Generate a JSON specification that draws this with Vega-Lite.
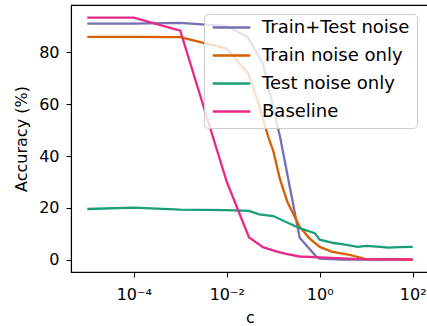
{
  "$schema": "https://vega.github.io/schema/vega-lite/v6.json",
  "width": 358,
  "height": 267,
  "autosize": {"type": "none"},
  "padding": {"left": 71, "top": 5, "right": 0, "bottom": 54},
  "background": "white",
  "config": {
    "view": {"stroke": "black", "strokeWidth": 1.1},
    "font": "DejaVu Sans",
    "axis": {
      "labelFont": "DejaVu Sans",
      "labelFontSize": 16,
      "labelColor": "black",
      "titleFont": "DejaVu Sans",
      "titleFontSize": 16,
      "titleFontWeight": "normal",
      "titleColor": "black",
      "domainColor": "black",
      "domainWidth": 1.1,
      "tickColor": "black",
      "tickWidth": 1.1,
      "tickSize": 5,
      "grid": false
    },
    "axisX": {"labelPadding": 9, "titlePadding": 7},
    "axisY": {"labelPadding": 7, "titlePadding": 9}
  },
  "data": {
    "values": [
      {"c": 0.00001, "series": "Train+Test noise", "acc": 91.0},
      {"c": 0.0001, "series": "Train+Test noise", "acc": 91.0},
      {"c": 0.001, "series": "Train+Test noise", "acc": 91.3},
      {"c": 0.01, "series": "Train+Test noise", "acc": 90.1},
      {"c": 0.028, "series": "Train+Test noise", "acc": 85.9},
      {"c": 0.06, "series": "Train+Test noise", "acc": 75.6},
      {"c": 0.14, "series": "Train+Test noise", "acc": 47.4},
      {"c": 0.37, "series": "Train+Test noise", "acc": 8.5},
      {"c": 0.85, "series": "Train+Test noise", "acc": 1.2},
      {"c": 1, "series": "Train+Test noise", "acc": 0.5},
      {"c": 3, "series": "Train+Test noise", "acc": 0.1},
      {"c": 100, "series": "Train+Test noise", "acc": 0.1},
      {"c": 0.00001, "series": "Train noise only", "acc": 85.9},
      {"c": 0.0001, "series": "Train noise only", "acc": 85.9},
      {"c": 0.001, "series": "Train noise only", "acc": 85.8},
      {"c": 0.01, "series": "Train noise only", "acc": 81.4},
      {"c": 0.029, "series": "Train noise only", "acc": 71.8},
      {"c": 0.051, "series": "Train noise only", "acc": 59.0},
      {"c": 0.078, "series": "Train noise only", "acc": 47.4},
      {"c": 0.1, "series": "Train noise only", "acc": 42.0},
      {"c": 0.14, "series": "Train noise only", "acc": 31.0},
      {"c": 0.2, "series": "Train noise only", "acc": 22.5},
      {"c": 0.3, "series": "Train noise only", "acc": 16.0},
      {"c": 0.37, "series": "Train noise only", "acc": 12.8},
      {"c": 0.6, "series": "Train noise only", "acc": 8.3},
      {"c": 1, "series": "Train noise only", "acc": 5.0},
      {"c": 1.8, "series": "Train noise only", "acc": 3.2},
      {"c": 4.4, "series": "Train noise only", "acc": 1.9},
      {"c": 6, "series": "Train noise only", "acc": 1.3},
      {"c": 10, "series": "Train noise only", "acc": 0.3},
      {"c": 100, "series": "Train noise only", "acc": 0.1},
      {"c": 0.00001, "series": "Test noise only", "acc": 19.6},
      {"c": 0.0001, "series": "Test noise only", "acc": 20.1},
      {"c": 0.001, "series": "Test noise only", "acc": 19.4},
      {"c": 0.01, "series": "Test noise only", "acc": 19.2},
      {"c": 0.03, "series": "Test noise only", "acc": 18.9},
      {"c": 0.05, "series": "Test noise only", "acc": 17.5},
      {"c": 0.1, "series": "Test noise only", "acc": 16.9},
      {"c": 0.37, "series": "Test noise only", "acc": 12.2},
      {"c": 0.78, "series": "Test noise only", "acc": 10.3},
      {"c": 1, "series": "Test noise only", "acc": 7.8},
      {"c": 2, "series": "Test noise only", "acc": 6.5},
      {"c": 3, "series": "Test noise only", "acc": 6.1},
      {"c": 6.6, "series": "Test noise only", "acc": 5.0},
      {"c": 10, "series": "Test noise only", "acc": 5.4},
      {"c": 20, "series": "Test noise only", "acc": 5.0},
      {"c": 30, "series": "Test noise only", "acc": 4.7},
      {"c": 50, "series": "Test noise only", "acc": 4.9},
      {"c": 100, "series": "Test noise only", "acc": 5.0},
      {"c": 0.00001, "series": "Baseline", "acc": 93.3},
      {"c": 0.0001, "series": "Baseline", "acc": 93.3},
      {"c": 0.001, "series": "Baseline", "acc": 88.3},
      {"c": 0.01, "series": "Baseline", "acc": 30.1},
      {"c": 0.03, "series": "Baseline", "acc": 8.7},
      {"c": 0.06, "series": "Baseline", "acc": 4.9},
      {"c": 0.12, "series": "Baseline", "acc": 3.2},
      {"c": 0.2, "series": "Baseline", "acc": 2.2},
      {"c": 0.37, "series": "Baseline", "acc": 1.3},
      {"c": 1, "series": "Baseline", "acc": 1.0},
      {"c": 7, "series": "Baseline", "acc": 0.3},
      {"c": 100, "series": "Baseline", "acc": 0.2}
    ]
  },
  "mark": {"type": "line", "strokeWidth": 2.3, "clip": true},
  "encoding": {
    "x": {
      "field": "c",
      "type": "quantitative",
      "title": "c",
      "scale": {"type": "log", "domain": [0.0000044668, 223.87], "nice": false},
      "axis": {
        "values": [0.0001, 0.01, 1, 100],
        "labelExpr": "datum.value < 0.001 ? '10⁻⁴' : datum.value < 0.1 ? '10⁻²' : datum.value < 10 ? '10⁰' : '10²'",
        "labelFlush": false,
        "labelOverlap": false
      }
    },
    "y": {
      "field": "acc",
      "type": "quantitative",
      "title": "Accuracy (%)",
      "scale": {"domain": [-4.67, 98.2], "nice": false, "zero": false},
      "axis": {"values": [0, 20, 40, 60, 80]}
    },
    "color": {
      "field": "series",
      "type": "nominal",
      "sort": ["Train+Test noise", "Train noise only", "Test noise only", "Baseline"],
      "scale": {
        "domain": ["Train+Test noise", "Train noise only", "Test noise only", "Baseline"],
        "range": ["#7570b3", "#d95f02", "#1b9e77", "#e7298a"]
      },
      "legend": {
        "title": null,
        "orient": "none",
        "legendX": 133,
        "legendY": 9,
        "symbolType": "stroke",
        "symbolSize": 1414,
        "symbolStrokeWidth": 2.6,
        "clipHeight": 13,
        "rowPadding": 9,
        "labelOffset": 10,
        "labelFont": "DejaVu Sans",
        "labelFontSize": 18,
        "labelColor": "black",
        "labelLimit": 400,
        "padding": 7,
        "fillColor": "rgba(255,255,255,0.8)",
        "strokeColor": "#cccccc",
        "cornerRadius": 4
      }
    }
  }
}
